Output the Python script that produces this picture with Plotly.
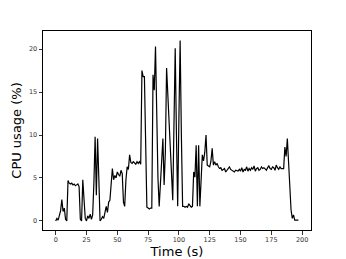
import plotly.graph_objects as go

time_s = list(range(0, 198))
cpu_usage = [
    0.0, 0.3, 0.1, 0.7, 1.2, 2.5, 1.1, 1.5, 0.2, 0.0,
    4.7, 4.4, 4.3, 4.4, 4.2, 4.3, 4.1, 4.2, 4.3, 4.0,
    0.2, 0.0, 4.8, 2.5, 0.3, 0.0, 0.6, 0.3, 0.8, 0.2,
    0.7, 4.4, 9.8, 3.0, 9.6, 5.0, 0.0, 0.2, 0.5, 0.3,
    1.2, 1.7, 1.0, 2.2, 2.4, 4.0, 6.1, 4.8, 5.3, 5.0,
    5.7, 5.4, 5.2, 5.9, 5.5, 2.2, 1.7, 4.8, 6.3, 6.0,
    7.7, 6.8, 6.7, 6.9, 6.8, 6.6, 6.9, 6.7, 6.9, 6.6,
    17.5, 16.8, 16.8, 9.0, 1.6, 1.5, 1.4, 1.5, 1.5, 17.0,
    15.2, 20.3, 12.0, 5.0, 1.7, 4.0, 7.5, 9.6, 4.2, 8.0,
    17.8, 15.0, 11.7, 10.0, 5.5, 2.4, 12.0, 20.1, 10.0, 1.7,
    12.0, 21.0, 10.0, 1.7, 1.7, 1.6, 1.7, 1.6, 2.0, 1.7,
    1.6, 1.7, 5.7, 5.1, 8.8, 1.7, 8.8, 1.7, 5.0, 7.7,
    7.0, 8.0, 10.0, 6.5, 6.4, 6.3, 7.0, 8.45, 6.5, 6.9,
    6.5, 6.7, 6.3, 6.1, 6.2, 5.9, 6.0, 6.1, 5.7, 5.9,
    6.1, 6.3, 6.0, 5.9, 5.8, 5.7, 5.9, 5.8, 5.8, 6.0,
    5.8, 6.2, 5.7, 6.0, 5.9, 6.3, 5.8, 6.1, 5.9, 6.2,
    6.0, 6.4, 5.8, 6.1, 6.2, 5.9, 6.0, 6.3, 6.1, 6.2,
    6.0, 5.9, 6.2, 6.4, 6.1, 6.0, 6.3, 6.2, 5.9, 6.5,
    6.2, 6.0, 6.3, 6.1, 6.1, 6.1, 8.6, 7.5, 9.6, 6.7,
    3.4, 1.3, 0.3, 0.7, 0.1, 0.1, 0.1, 0.1,
]
x_ticks = [0, 25, 50, 75, 100, 125, 150, 175, 200]
y_ticks = [0, 5, 10, 15, 20]

fig = go.Figure(
    go.Scatter(
        x=time_s, y=cpu_usage, mode="lines",
        line=dict(color="black", width=1.2),
        showlegend=False,
    )
)

axis_common = dict(
    showgrid=False, zeroline=False, automargin=False,
    showline=True, linecolor="black", linewidth=1, mirror=True,
    ticks="outside", ticklen=3.5, tickwidth=0.8, tickcolor="#333",
    tickfont=dict(family="DejaVu Sans", size=6.5, color="#333"),
)

# the page body adds an 8px offset, so the figure is sized/margined to compensate
fig.update_layout(
    width=338, height=251,
    margin=dict(l=35, r=35, t=23, b=29),
    paper_bgcolor="white", plot_bgcolor="white",
    font=dict(family="DejaVu Sans", color="black"),
    xaxis=dict(
        range=[-10.3, 207.2], tickvals=x_ticks,
        title=dict(text="Time (s)", font=dict(size=13, color="black"), standoff=4),
        **axis_common,
    ),
    yaxis=dict(
        range=[-1.05, 22.1], tickvals=y_ticks,
        title=dict(text="CPU usage (%)", font=dict(size=13, color="black"), standoff=4),
        **axis_common,
    ),
)

fig.write_html("out.html")
